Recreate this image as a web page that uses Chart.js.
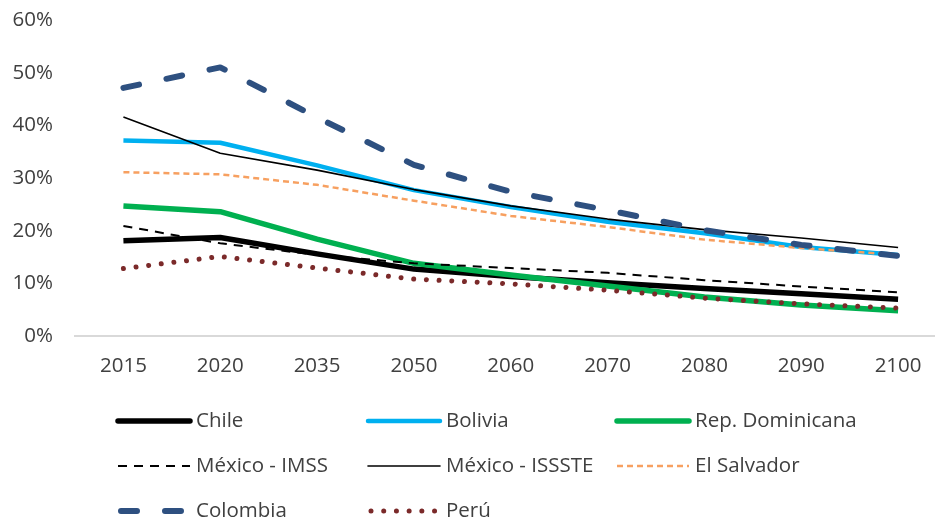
<!DOCTYPE html>
<html>
<head>
<meta charset="utf-8">
<script src="https://cdn.jsdelivr.net/npm/chart.js@4/dist/chart.umd.min.js"></script>
<style>
  html, body { margin: 0; padding: 0; background: #ffffff; overflow: hidden; }
  #wrap { position: relative; width: 935px; height: 523px; overflow: hidden; }
  #wrap canvas { position: absolute; left: 0; top: 0; }
</style>
</head>
<body>
<div id="wrap"><canvas id="c" width="950" height="523"></canvas></div>
<script>
// Years on the horizontal axis
const years = ['2015', '2020', '2035', '2050', '2060', '2070', '2080', '2090', '2100'];

// Series values (share, 0..1)
const chile      = [0.181, 0.187, 0.156, 0.127, 0.113, 0.101, 0.090, 0.080, 0.070];
const bolivia    = [0.371, 0.367, 0.324, 0.277, 0.245, 0.217, 0.195, 0.169, 0.154];
const repDom     = [0.247, 0.236, 0.184, 0.138, 0.116, 0.095, 0.074, 0.059, 0.048];
const mexicoImss = [0.209, 0.176, 0.154, 0.138, 0.129, 0.120, 0.106, 0.094, 0.083];
const mexicoIsss = [0.416, 0.347, 0.315, 0.278, 0.247, 0.222, 0.202, 0.186, 0.168];
const elSalvador = [0.311, 0.307, 0.287, 0.257, 0.228, 0.207, 0.183, 0.167, 0.154];
const colombia   = [0.471, 0.510, 0.415, 0.325, 0.274, 0.239, 0.201, 0.173, 0.152];
const peru       = [0.128, 0.151, 0.129, 0.108, 0.099, 0.087, 0.072, 0.061, 0.053];

// Y axis ticks
const yTicks = [0, 0.1, 0.2, 0.3, 0.4, 0.5, 0.6];

const FONT = '"Open Sans", Lato, sans-serif';
const FONT_SIZE = 20.5;
const TEXT = '#404040';

function series(label, data, color, width, dash, cap) {
  return {
    label, data,
    borderColor: color,
    backgroundColor: color,
    borderWidth: width,
    borderDash: dash || [],
    borderCapStyle: cap || 'butt',
    borderJoinStyle: 'round',
    pointRadius: 0,
    pointHoverRadius: 0,
    tension: 0,
    fill: false
  };
}

const datasets = [
  series('Chile', chile, '#000000', 5.5),
  series('Bolivia', bolivia, '#00b0f0', 4.5),
  series('Rep. Dominicana', repDom, '#00b050', 5.5),
  series('México - IMSS', mexicoImss, '#000000', 2, [9, 7]),
  series('México - ISSSTE', mexicoIsss, '#000000', 1.6),
  series('El Salvador', elSalvador, '#f7a060', 2.5, [6, 4]),
  series('Colombia', colombia, '#2e5080', 6, [16, 28], 'round'),
  series('Perú', peru, '#7b2a2a', 5, [0.01, 12.7], 'round')
];
// later series sit on top
datasets.forEach((d, i) => { d.order = datasets.length - i; });

// Three-column legend under the plot
const gridLegend = {
  id: 'gridLegend',
  afterDraw(chart) {
    const ctx = chart.ctx;
    const colX = [118, 368, 617];
    const rowY = [421, 466, 511];
    const sampleLen = 72;
    chart.data.datasets.forEach((ds, i) => {
      const col = i % 3, row = Math.floor(i / 3);
      const x = colX[col], y = rowY[row];
      ctx.save();
      ctx.strokeStyle = ds.borderColor;
      ctx.lineWidth = ds.borderWidth;
      ctx.lineCap = ds.borderCapStyle === 'round' ? 'round' : (ds.borderDash.length ? 'butt' : 'round');
      ctx.setLineDash(ds.borderDash);
      ctx.beginPath();
      ctx.moveTo(x + (ds.borderCapStyle === 'round' ? 3 : 0), y);
      ctx.lineTo(x + sampleLen, y);
      ctx.stroke();
      ctx.restore();
      ctx.save();
      ctx.fillStyle = TEXT;
      ctx.font = FONT_SIZE + 'px ' + FONT;
      ctx.textBaseline = 'middle';
      ctx.textAlign = 'left';
      ctx.fillText(ds.label, x + sampleLen + 6, y);
      ctx.restore();
    });
  }
};

new Chart(document.getElementById('c'), {
  type: 'line',
  data: { labels: years, datasets },
  plugins: [gridLegend],
  options: {
    responsive: false,
    animation: false,
    layout: { padding: { top: 20, right: 3.5, bottom: 137, left: 0 } },
    plugins: { legend: { display: false }, tooltip: { enabled: false } },
    scales: {
      x: {
        offset: true,
        grid: { display: false, drawTicks: false },
        border: { display: true, color: '#d9d9d9', width: 2 },
        ticks: { color: TEXT, font: { family: FONT, size: FONT_SIZE }, padding: 18, maxRotation: 0 },
        afterFit(scale) { scale.height = 50; }
      },
      y: {
        min: 0, max: 0.6,
        // invisible grid; its tick length spaces the labels from the plot
        grid: { display: true, color: 'rgba(0,0,0,0)', drawOnChartArea: false, drawTicks: true, tickLength: 22 },
        border: { display: false },
        afterBuildTicks(scale) { scale.ticks = yTicks.map(v => ({ value: v })); },
        ticks: {
          color: TEXT,
          font: { family: FONT, size: FONT_SIZE },
          padding: 0,
          callback: v => Math.round(v * 100) + '%'
        },
        afterFit(scale) { scale.width = 75; }
      }
    }
  }
});
</script>
</body>
</html>
